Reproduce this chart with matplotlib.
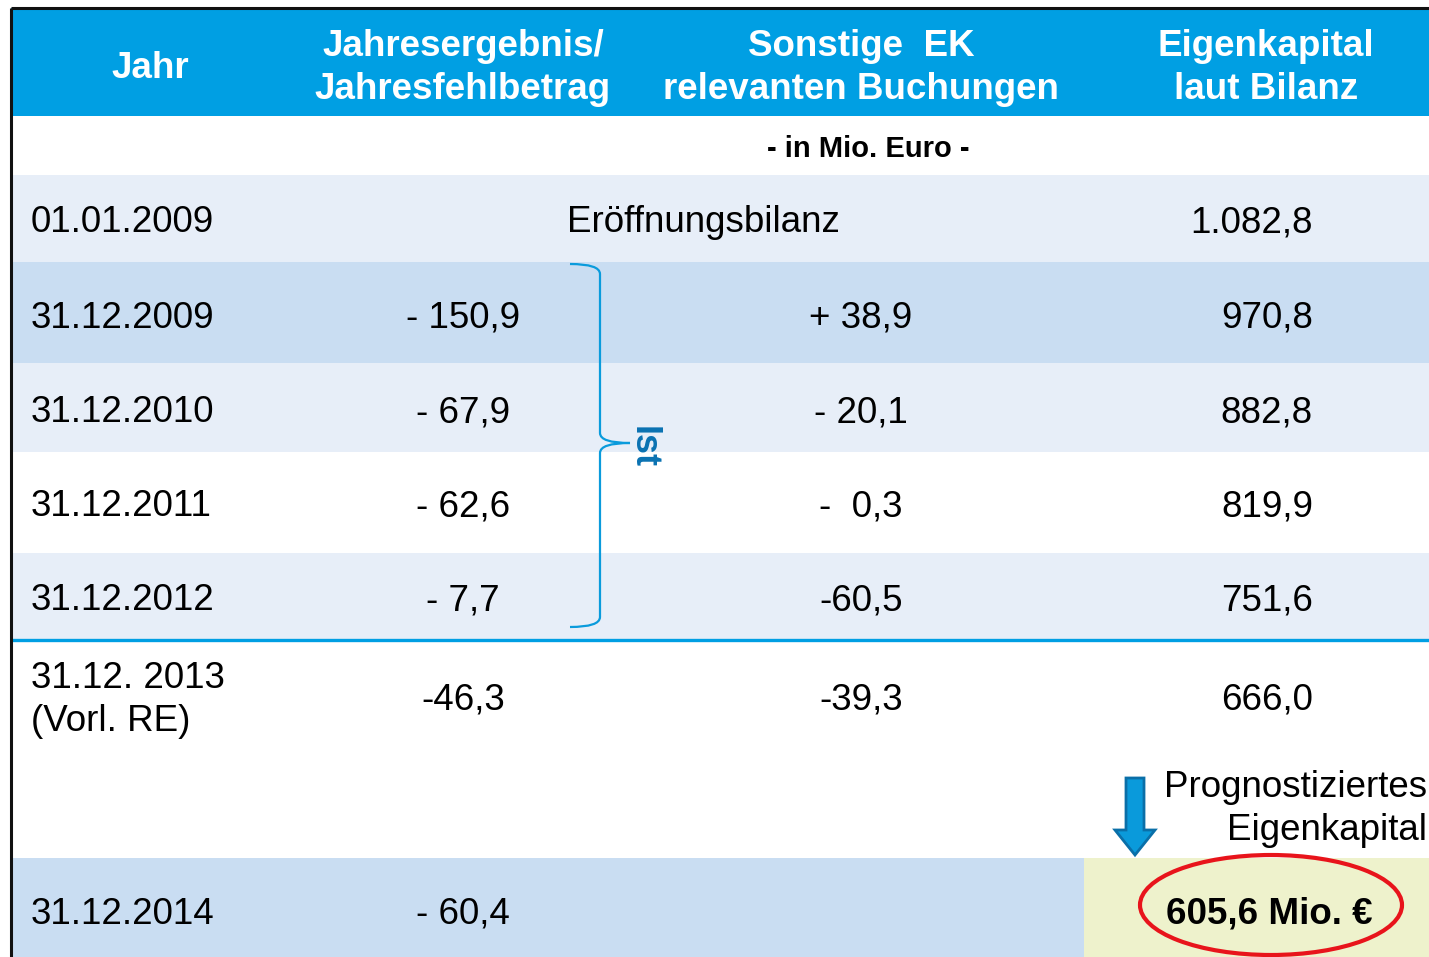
import matplotlib.pyplot as plt
import matplotlib.patches as patches
from matplotlib.path import Path

# data
headers = ["Jahr", "Jahresergebnis/\nJahresfehlbetrag", "Sonstige  EK\nrelevanten Buchungen", "Eigenkapital\nlaut Bilanz"]
unit_label = "- in Mio. Euro -"
dates = ["01.01.2009", "31.12.2009", "31.12.2010", "31.12.2011", "31.12.2012", "31.12. 2013\n(Vorl. RE)", "31.12.2014"]
jahresergebnis = ["", "- 150,9", "- 67,9", "- 62,6", "- 7,7", "-46,3", "- 60,4"]
sonstige = ["", "+ 38,9", "- 20,1", "-  0,3", "-60,5", "-39,3", ""]
eigenkapital = ["1.082,8", "970,8", "882,8", "819,9", "751,6", "666,0", ""]
eroeffnung = "Eröffnungsbilanz"
prognose_label = "Prognostiziertes\nEigenkapital"
prognose_value = "605,6 Mio. €"
ist_label = "Ist"

# colors
HEAD = "#009FE3"
LIGHT = "#E7EEF8"
DARK = "#C9DDF2"
YELLOW = "#EEF2CC"
BLUE_LINE = "#009FE3"

plt.rcParams["font.family"] = ["Liberation Sans", "DejaVu Sans"]
FS = 26.5
LS = 1.32
DY = 4  # small downward shift so text sits like the reference

fig = plt.figure(figsize=(14.29, 9.57), dpi=100)
ax = fig.add_axes([0, 0, 1, 1])
ax.set_xlim(0, 1429)
ax.set_ylim(957, 0)
ax.axis("off")

W = 1429
left = 11

# header band
ax.add_patch(patches.Rectangle((left, 8), W - left, 108, color=HEAD, lw=0))
head_x = [150, 463, 861, 1266]
for x, h in zip(head_x, headers):
    ax.text(x, 64 + DY, h, ha="center", va="center", color="white", fontsize=FS,
            fontweight="bold", linespacing=LS)
ax.text(868, 147 + 2, unit_label, ha="center", va="center", fontsize=21, fontweight="bold")

# row bands: (top, bottom, color)
bands = [(175, 262, LIGHT), (262, 363, DARK), (363, 452, LIGHT), (452, 553, "white"),
         (553, 639, LIGHT), (639, 757, "white"), (858, 957, DARK)]
row_y = [219, 314, 409, 503, 597, 696, 910]
for (t, b, c) in bands:
    ax.add_patch(patches.Rectangle((left, t), W - left, b - t, color=c, lw=0))
ax.add_patch(patches.Rectangle((1084, 858), W - 1084, 99, color=YELLOW, lw=0))

for i, y in enumerate(row_y):
    y = y + DY
    ax.text(31, y, dates[i], ha="left", va="center", fontsize=FS, linespacing=LS)
    if jahresergebnis[i]:
        ax.text(463, y, jahresergebnis[i], ha="center", va="center", fontsize=FS)
    if sonstige[i]:
        ax.text(861, y, sonstige[i], ha="center", va="center", fontsize=FS)
    if eigenkapital[i]:
        ax.text(1313, y, eigenkapital[i], ha="right", va="center", fontsize=FS)
ax.text(703, row_y[0] + DY, eroeffnung, ha="center", va="center", fontsize=FS)

# blue separator line
ax.plot([left, W], [640, 640], color=BLUE_LINE, lw=2.4, solid_capstyle="butt")

# border
ax.plot([left, W], [8, 8], color="#111111", lw=2.2, solid_capstyle="butt")
ax.plot([left, left], [8, 957], color="#111111", lw=2.2, solid_capstyle="butt")

# brace
verts = [(570, 264), (600, 264), (600, 274), (600, 433), (600, 443), (630, 443),
         (600, 443), (600, 453), (600, 617), (600, 627), (570, 627)]
codes = [Path.MOVETO, Path.CURVE3, Path.CURVE3, Path.LINETO, Path.CURVE3, Path.CURVE3,
         Path.CURVE3, Path.CURVE3, Path.LINETO, Path.CURVE3, Path.CURVE3]
ax.add_patch(patches.PathPatch(Path(verts, codes), fill=False, ec="#0A9BDC", lw=1.6))
ax.text(643, 447, ist_label, rotation=-90, ha="center", va="center", fontsize=26,
        fontweight="bold", color="#0A72B2")

# prognose
ax.text(1427, 805 + DY, prognose_label, ha="right", va="center", fontsize=FS, linespacing=LS)
ax.add_patch(patches.FancyArrow(1135, 778, 0, 77, width=18, head_width=40, head_length=25,
                                length_includes_head=True, fc="#0A9ADB", ec="#0A6FA8", lw=2))
ax.text(1269, 910 + DY, prognose_value, ha="center", va="center", fontsize=FS, fontweight="bold")
ax.add_patch(patches.Ellipse((1271, 905), 262, 100, fill=False, ec="#E8141B", lw=3))

fig.savefig("out.png", dpi=100)
